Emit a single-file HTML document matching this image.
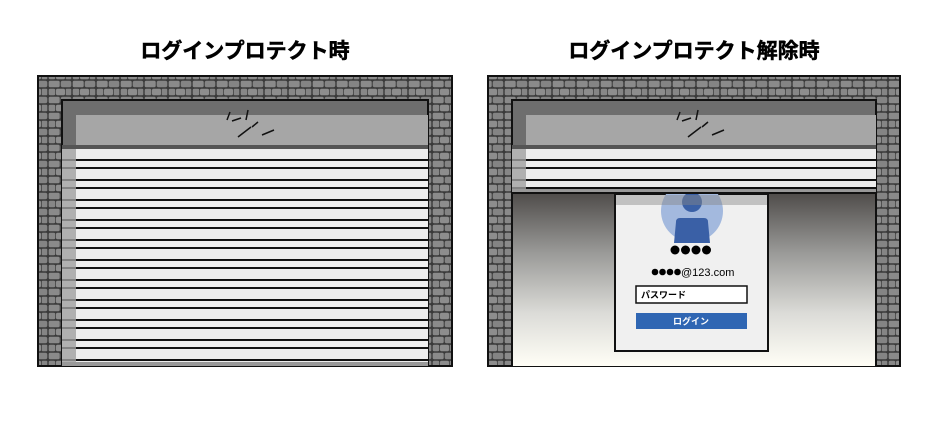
<!DOCTYPE html>
<html><head><meta charset="utf-8"><style>
body{margin:0;width:940px;height:426px;background:#fff;overflow:hidden;font-family:"Liberation Sans","Noto Sans CJK JP",sans-serif}
</style></head><body>
<svg width="940" height="426" xmlns="http://www.w3.org/2000/svg">
<defs>
<pattern id="st" width="24" height="16" patternUnits="userSpaceOnUse">
<rect width="24" height="16" fill="#3a3a3a"/>
<rect x="0.7" y="0.7" width="11" height="6.6" rx="1.5" fill="#8a8a8a"/>
<rect x="12.7" y="0.7" width="10.6" height="6.6" rx="2" fill="#848484"/>
<rect x="0.7" y="8.7" width="6.6" height="6.6" rx="1.5" fill="#878787"/>
<rect x="8" y="8.7" width="9" height="6.6" rx="1.5" fill="#8d8d8d"/>
<rect x="17.7" y="8.7" width="5.6" height="6.6" rx="1" fill="#858585"/>
</pattern>
<pattern id="sl" width="10" height="20" patternUnits="userSpaceOnUse" y="152">
<rect width="10" height="20" fill="#ededed"/>
<rect y="7" width="10" height="2" fill="#111"/>
<rect y="15" width="10" height="2" fill="#111"/>
</pattern>
<linearGradient id="g" x1="0" y1="0" x2="0" y2="1">
<stop offset="0" stop-color="#4e4b49"/><stop offset="0.35" stop-color="#9a9a98"/><stop offset="0.7" stop-color="#dcdcd8"/><stop offset="1" stop-color="#fffef6"/></linearGradient>
<clipPath id="cc"><rect x="600" y="194" width="200" height="100"/></clipPath>
</defs>
<g font-size="21" font-weight="bold" stroke="#000" stroke-width="0.5" text-anchor="middle" font-family="Liberation Sans,Noto Sans CJK JP,sans-serif">
<text x="245" y="58">ログインプロテクト時</text>
<text x="694" y="58">ログインプロテクト解除時</text>
</g>

<g>
<rect x="38" y="76" width="414" height="290" fill="url(#st)" stroke="#111" stroke-width="2"/>
<rect x="62" y="100" width="366" height="266" fill="#6e6e6e" stroke="#111" stroke-width="2"/>
<rect x="76" y="115" width="352" height="30" fill="#a6a6a6"/>
<rect x="62" y="145" width="366" height="4" fill="#555"/>
<rect x="62" y="149" width="366" height="213" fill="url(#sl)"/>
<rect x="62" y="149" width="14" height="213" fill="#a0a0a0" opacity="0.8"/>
<rect x="62" y="362" width="366" height="4" fill="#999"/>
<g stroke="#111" stroke-width="1.5"><line x1="230" y1="112" x2="227" y2="120"/><line x1="232" y1="121" x2="241" y2="118"/><line x1="248" y1="110" x2="246" y2="120"/><line x1="258" y1="122" x2="252" y2="127"/><line x1="251" y1="127" x2="238" y2="137"/><line x1="262" y1="135" x2="274" y2="130"/></g>
</g>

<g>
<rect x="488" y="76" width="412" height="290" fill="url(#st)" stroke="#111" stroke-width="2"/>
<rect x="512" y="100" width="364" height="266" fill="#6e6e6e" stroke="#111" stroke-width="2"/>
<rect x="513" y="192" width="362" height="174" fill="url(#g)"/>
<rect x="526" y="115" width="350" height="30" fill="#a6a6a6"/>
<rect x="512" y="145" width="364" height="4" fill="#555"/>
<rect x="512" y="149" width="364" height="40" fill="url(#sl)"/>
<rect x="512" y="149" width="14" height="40" fill="#a0a0a0" opacity="0.8"/>
<rect x="512" y="189" width="364" height="4" fill="#999"/>
<rect x="512" y="192" width="364" height="2" fill="#111"/>
<g stroke="#111" stroke-width="1.5"><line x1="680" y1="112" x2="677" y2="120"/><line x1="682" y1="121" x2="691" y2="118"/><line x1="698" y1="110" x2="696" y2="120"/><line x1="708" y1="122" x2="702" y2="127"/><line x1="701" y1="127" x2="688" y2="137"/><line x1="712" y1="135" x2="724" y2="130"/></g>
<rect x="615" y="194" width="153" height="157" fill="#f0f0f0" stroke="#111" stroke-width="2"/>
<g clip-path="url(#cc)">
<circle cx="692" cy="211" r="31" fill="#a3b9de"/>
<circle cx="692" cy="202" r="10" fill="#3a60a6"/>
<path d="M680 218 h24 q4 0 4 4 l2 21 h-36 l2 -21 q0 -4 4 -4z" fill="#3a60a6"/>
<rect x="616" y="195" width="151" height="10" fill="#888" opacity="0.45"/>
</g>
<g fill="#000"><circle cx="675" cy="250" r="4.5"/><circle cx="685.5" cy="250" r="4.5"/><circle cx="696" cy="250" r="4.5"/><circle cx="706.5" cy="250" r="4.5"/></g>
<g fill="#000"><circle cx="655" cy="272" r="3.3"/><circle cx="662.5" cy="272" r="3.3"/><circle cx="670" cy="272" r="3.3"/><circle cx="677.5" cy="272" r="3.3"/></g>
<text x="681" y="276" font-size="11" font-family="Liberation Sans,sans-serif">@123.com</text>
<rect x="636" y="286" width="111" height="17" fill="#fff" stroke="#111" stroke-width="1.5"/>
<text x="641" y="298" font-size="9" font-weight="bold" font-family="Liberation Sans,Noto Sans CJK JP,sans-serif">パスワード</text>
<rect x="636" y="313" width="111" height="16" fill="#2f66b3"/>
<text x="691" y="324.5" font-size="9" font-weight="bold" fill="#fff" text-anchor="middle" font-family="Liberation Sans,Noto Sans CJK JP,sans-serif">ログイン</text>
</g>
</svg>
</body></html>
